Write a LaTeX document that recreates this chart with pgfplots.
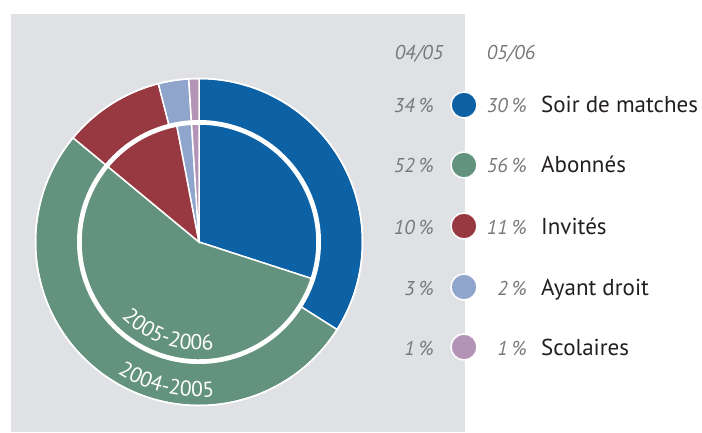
\documentclass[border=0pt]{standalone}
\usepackage{pgfplots}
\pgfplotsset{compat=1.18}
\usepackage{pgfplotstable}
\usepackage{fontspec}
\setmainfont{PT Sans}
\usetikzlibrary{decorations.text}
\definecolor{cBlue}{HTML}{0D62A6}
\definecolor{cGreen}{HTML}{63927E}
\definecolor{cRed}{HTML}{983841}
\definecolor{cLight}{HTML}{90A5CC}
\definecolor{cPurple}{HTML}{B393B6}
\definecolor{panel}{HTML}{E0E1E5}
\definecolor{pctgrey}{HTML}{77787B}
\definecolor{labtext}{HTML}{231F20}

\pgfplotstableread{
idx p04 p05 col name
0 34 30 cBlue {Soir de matches}
1 52 56 cGreen {Abonnés}
2 10 11 cRed {Invités}
3 3 2 cLight {Ayant droit}
4 1 1 cPurple {Scolaires}
}\piedata

\newcommand{\pctfont}{\fontsize{20pt}{20pt}\selectfont\itshape\color{pctgrey}}
\newcommand{\labfont}{\fontsize{23pt}{23pt}\selectfont\color{labtext}}
\newcommand{\pc}{\hspace{0.22em}\%}

\begin{document}
\begin{tikzpicture}
\begin{axis}[x=1pt,y=1pt,xmin=0,xmax=702,ymin=0,ymax=432,
  hide axis, clip=false, scale only axis]
\fill[white] (axis cs:0,0) rectangle (axis cs:702,432);
\fill[panel] (axis cs:11,0) rectangle (axis cs:465,418);
% outer ring 2004-2005
\def\cumA{0}
\pgfplotsforeachungrouped \i in {0,...,4}{%
  \pgfplotstablegetelem{\i}{p04}\of\piedata \let\va\pgfplotsretval
  \pgfplotstablegetelem{\i}{col}\of\piedata \let\vc\pgfplotsretval
  \pgfmathsetmacro\sA{90-3.6*\cumA}%
  \pgfmathsetmacro\cumA{\cumA+\va}%
  \pgfmathsetmacro\eA{90-3.6*\cumA}%
  \edef\temp{\noexpand\fill[\vc,draw=white,line width=1.5pt] (axis cs:199,190) -- ++(\sA:163.5pt) arc[start angle=\sA,end angle=\eA,radius=163.5pt] -- cycle;}%
  \temp
}
% inner pie 2005-2006
\def\cumB{0}
\pgfplotsforeachungrouped \i in {0,...,4}{%
  \pgfplotstablegetelem{\i}{p05}\of\piedata \let\vb\pgfplotsretval
  \pgfplotstablegetelem{\i}{col}\of\piedata \let\vc\pgfplotsretval
  \pgfmathsetmacro\sB{90-3.6*\cumB}%
  \pgfmathsetmacro\cumB{\cumB+\vb}%
  \pgfmathsetmacro\eB{90-3.6*\cumB}%
  \edef\temp{\noexpand\fill[\vc,draw=white,line width=1.5pt] (axis cs:199,190) -- ++(\sB:118pt) arc[start angle=\sB,end angle=\eB,radius=118pt] -- cycle;}%
  \temp
}
\draw[white,line width=4pt] (axis cs:199,190) circle[radius=120pt];
\draw[white,line width=1.5pt] (axis cs:199,190) circle[radius=163.5pt];
% ring labels
\path[decorate,decoration={text along path,text align=center,
  text={|\fontsize{21.5pt}{21.5pt}\selectfont\color{white}|2005-2006}}]
  (axis cs:199,190) ++(-142:108pt) arc[start angle=-142,end angle=-76,radius=108pt];
\path[decorate,decoration={text along path,text align=center,
  text={|\fontsize{21.5pt}{21.5pt}\selectfont\color{white}|2004-2005}}]
  (axis cs:199,190) ++(-136:155pt) arc[start angle=-136,end angle=-70,radius=155pt];
% legend dots
\addplot[only marks,mark=*,mark size=13pt,mark options={line width=1.5pt,draw=white,fill=cBlue}] coordinates {(464,327)};
\addplot[only marks,mark=*,mark size=13pt,mark options={line width=1.5pt,draw=white,fill=cGreen}] coordinates {(464,267)};
\addplot[only marks,mark=*,mark size=13pt,mark options={line width=1.5pt,draw=white,fill=cRed}] coordinates {(464,206)};
\addplot[only marks,mark=*,mark size=13pt,mark options={line width=1.5pt,draw=white,fill=cLight}] coordinates {(464,145)};
\addplot[only marks,mark=*,mark size=13pt,mark options={line width=1.5pt,draw=white,fill=cPurple}] coordinates {(464,85)};
% headers
\node[anchor=base,inner sep=0pt] at (axis cs:419,372) {\pctfont 04/05};
\node[anchor=base,inner sep=0pt] at (axis cs:511,372) {\pctfont 05/06};
% legend texts
\node[anchor=base east,inner sep=0pt] at (axis cs:434,319) {\pctfont 34\pc};
\node[anchor=base east,inner sep=0pt] at (axis cs:434,259) {\pctfont 52\pc};
\node[anchor=base east,inner sep=0pt] at (axis cs:434,198) {\pctfont 10\pc};
\node[anchor=base east,inner sep=0pt] at (axis cs:434,137) {\pctfont 3\pc};
\node[anchor=base east,inner sep=0pt] at (axis cs:434,77) {\pctfont 1\pc};
\node[anchor=base east,inner sep=0pt] at (axis cs:527,319) {\pctfont 30\pc};
\node[anchor=base east,inner sep=0pt] at (axis cs:527,259) {\pctfont 56\pc};
\node[anchor=base east,inner sep=0pt] at (axis cs:527,198) {\pctfont 11\pc};
\node[anchor=base east,inner sep=0pt] at (axis cs:527,137) {\pctfont 2\pc};
\node[anchor=base east,inner sep=0pt] at (axis cs:527,77) {\pctfont 1\pc};
\node[anchor=base west,inner sep=0pt] at (axis cs:541,319) {\labfont Soir de matches};
\node[anchor=base west,inner sep=0pt] at (axis cs:541,259) {\labfont Abonnés};
\node[anchor=base west,inner sep=0pt] at (axis cs:541,198) {\labfont Invités};
\node[anchor=base west,inner sep=0pt] at (axis cs:541,137) {\labfont Ayant droit};
\node[anchor=base west,inner sep=0pt] at (axis cs:541,77) {\labfont Scolaires};
\end{axis}
\end{tikzpicture}
\end{document}
